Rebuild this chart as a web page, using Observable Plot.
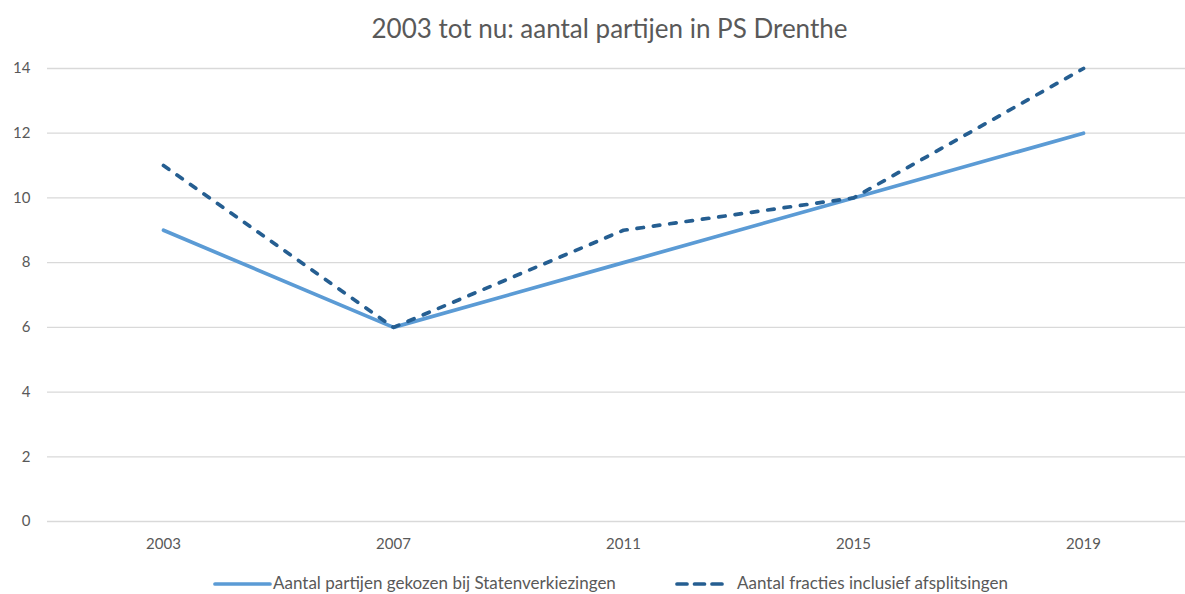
<!DOCTYPE html>
<html>
<head>
<meta charset="utf-8">
<script src="https://cdn.jsdelivr.net/npm/d3@7"></script>
<script src="https://cdn.jsdelivr.net/npm/@observablehq/plot@0.6"></script>
<style>
  html, body { margin: 0; padding: 0; background: #fff; }
  body { width: 1185px; height: 594px; position: relative; overflow: hidden; font-family: Lato, "Open Sans", sans-serif; }
  #title { position: absolute; left: 0; top: 13px; width: 1185px; padding-left: 34px; box-sizing: border-box; text-align: center; font-size: 26px; line-height: 30px; color: #595959; }
  #chart { position: absolute; left: 0; top: 50px; }
  .leg { position: absolute; top: 573px; height: 20px; display: flex; align-items: center; font-size: 17px; line-height: 20px; color: #595959; white-space: nowrap; }
  .leg svg { display: block; margin-top: 2px; }
</style>
</head>
<body>
<div id="title">2003 tot nu: aantal partijen in PS Drenthe</div>
<div id="chart"></div>
<div class="leg" id="leg1" style="left:213px"></div>
<div class="leg" id="leg2" style="left:675px"></div>
<script>
const years = ["2003", "2007", "2011", "2015", "2019"];
const gekozen = [9, 6, 8, 10, 12];
const fracties = [11, 6, 9, 10, 14];
const yTicks = [0, 2, 4, 6, 8, 10, 12, 14];
const seriesNames = ["Aantal partijen gekozen bij Statenverkiezingen", "Aantal fracties inclusief afsplitsingen"];
const colors = ["#5B9BD5", "#255E91"];
const dash = "6.5,10";
const legendDash = "10,7.5";

const rows1 = years.map((y, i) => ({year: y, value: gekozen[i]}));
const rows2 = years.map((y, i) => ({year: y, value: fracties[i]}));

const plot = Plot.plot({
  width: 1185,
  height: 510,
  marginLeft: 47,
  marginRight: 0,
  marginTop: 18,
  marginBottom: 39,
  style: {fontFamily: "Lato, 'Open Sans', sans-serif", fontSize: "15px", color: "#595959", background: "#fff"},
  x: {type: "point", domain: years, range: [47, 1198], padding: 0.5},
  y: {domain: [0, 14]},
  marks: [
    Plot.gridY(yTicks, {stroke: "#D9D9D9", strokeOpacity: 1, strokeWidth: 1.3}),
    Plot.axisY(yTicks, {tickSize: 0, tickPadding: 17, label: null, fill: "#595959"}),
    Plot.axisX({tickSize: 0, tickPadding: 17, label: null, fill: "#595959"}),
    Plot.line(rows1, {x: "year", y: "value", stroke: colors[0], strokeWidth: 3.7, strokeLinejoin: "round", strokeLinecap: "round"}),
    Plot.line(rows2, {x: "year", y: "value", stroke: colors[1], strokeWidth: 3.7, strokeDasharray: dash, strokeLinejoin: "round", strokeLinecap: "round"})
  ]
});
document.getElementById("chart").appendChild(plot);

function legendItem(el, name, color, dashed, w, gap) {
  const ns = "http://www.w3.org/2000/svg";
  const s = document.createElementNS(ns, "svg");
  s.setAttribute("width", w); s.setAttribute("height", 8);
  s.style.marginRight = gap + "px";
  const l = document.createElementNS(ns, "line");
  l.setAttribute("x1", 2); l.setAttribute("x2", w - 2);
  l.setAttribute("y1", 4); l.setAttribute("y2", 4);
  l.setAttribute("stroke", color); l.setAttribute("stroke-width", 3.7);
  l.setAttribute("stroke-linecap", "round");
  if (dashed) l.setAttribute("stroke-dasharray", legendDash);
  s.appendChild(l);
  el.appendChild(s);
  const t = document.createElement("span");
  t.textContent = name;
  el.appendChild(t);
}
legendItem(document.getElementById("leg1"), seriesNames[0], colors[0], false, 59, 1);
legendItem(document.getElementById("leg2"), seriesNames[1], colors[1], true, 54, 8);
</script>
</body>
</html>
